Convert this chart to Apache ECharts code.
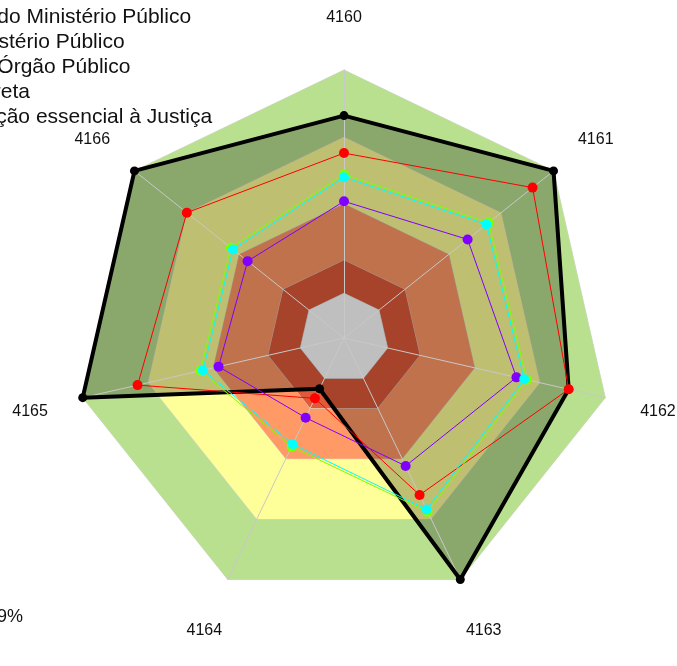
<!DOCTYPE html>
<html>
<head>
<meta charset="utf-8">
<script src="https://cdn.jsdelivr.net/npm/echarts@6/dist/echarts.min.js"></script>
<style>html,body{margin:0;padding:0;background:#fff;}#chart{width:677px;height:666px;}</style>
</head>
<body>
<div id="chart"></div>
<script>
// Indicators in clockwise order from the top, as in the reference
var indicators = ['4160', '4161', '4162', '4163', '4164', '4165', '4166'];
var axisMax = 100;

// Line series (values per indicator, same order as `indicators`)
var seriesNames = ['Ato do Ministério Público', 'Ministério Público', 'Em Órgão Público', 'Indireta', 'Função essencial à Justiça'];
var blackValues  = [83, 100, 86, 100, 21, 100, 100];
var redValues    = [69, 90, 86, 65, 25, 79, 75];
var cyanValues   = [60, 68, 69, 71, 44, 54, 53];
var limeValues   = [61, 69, 70, 72, 45, 55, 54];
var purpleValues = [51, 59, 66, 53, 33, 48, 46];

// Background bands (outer limit of each band, as a share of the axis)
var bandLimits = [100, 75, 50, 29, 16.7];
var bandColors = ['#b9e08f', '#ffff99', '#ff9966', '#e05a3a', '#ffffff'];

// ECharts lays indicators out counter-clockwise; reorder to get clockwise
var order = [0, 6, 5, 4, 3, 2, 1];
function ccw(arr) { return order.map(function (i) { return arr[i]; }); }

var font = 'Liberation Sans, Arial, sans-serif';
var radarRadius = 268, nameGap = 54;
var ccwNames = ccw(indicators);

var series = [];
bandLimits.forEach(function (v, k) {
  series.push({
    type: 'radar', z: 1, silent: true, symbol: 'none',
    lineStyle: { color: '#d4d4d4', width: 1 },
    areaStyle: { color: bandColors[k], opacity: 1 },
    data: [{ value: indicators.map(function () { return v; }) }]
  });
});
// shading of the first series' polygon
series.push({
  type: 'radar', z: 2, silent: true, symbol: 'none', name: seriesNames[0],
  lineStyle: { width: 0, opacity: 0 },
  areaStyle: { color: '#000000', opacity: 0.25 },
  data: [{ value: ccw(blackValues) }]
});
function lineSeries(name, values, color, width, size, z) {
  return {
    type: 'radar', name: name, z: z, symbol: 'circle', symbolSize: size,
    itemStyle: { color: color },
    lineStyle: { color: color, width: width },
    data: [{ value: ccw(values), name: name }]
  };
}
series.push(lineSeries(seriesNames[0], blackValues, '#000000', 4, 9, 4));
series.push(lineSeries(seriesNames[1], redValues, '#ff0000', 1, 10, 5));
series.push(lineSeries(seriesNames[4], purpleValues, '#8000ff', 1, 10, 5));
series.push(lineSeries(seriesNames[3], limeValues, '#80ff00', 1, 10, 5));
series.push(lineSeries(seriesNames[2], cyanValues, '#00ffff', 1, 10, 5));

// indicator names, centred just outside each axis end
var labelValue = axisMax * (radarRadius + nameGap) / radarRadius;
series.push({
  type: 'radar', z: 6, silent: true, symbol: 'circle', symbolSize: 1,
  itemStyle: { color: 'rgba(0,0,0,0)' },
  lineStyle: { width: 0, opacity: 0 },
  label: {
    show: true, position: 'inside', offset: [0, 2], color: '#111', fontSize: 16, fontFamily: font,
    formatter: function (p) { return ccwNames[p.dimensionIndex]; }
  },
  data: [{ value: ccwNames.map(function () { return labelValue; }) }]
});

var chart = echarts.init(document.getElementById('chart'), null, { renderer: 'canvas' });
chart.setOption({
  animation: false,
  backgroundColor: '#ffffff',
  textStyle: { fontFamily: font },
  legend: {
    orient: 'vertical', left: -70, top: 7, padding: 0,
    itemWidth: 25, itemHeight: 14, itemGap: 4,
    data: seriesNames,
    textStyle: { fontSize: 21, color: '#111', fontFamily: font, lineHeight: 21 }
  },
  graphic: [{
    type: 'text', x: -3, y: 608,
    style: { text: '9%', fontSize: 18, fill: '#111', fontFamily: font }
  }],
  radar: {
    z: 3,
    center: [344, 338],
    radius: radarRadius,
    startAngle: 90,
    shape: 'polygon',
    splitNumber: 1,
    axisName: { show: false },
    indicator: ccwNames.map(function (n) { return { name: n, min: 0, max: axisMax }; }),
    axisLine: { lineStyle: { color: '#c8c8c8', width: 1 } },
    splitLine: { show: false },
    splitArea: { show: false }
  },
  series: series
});
</script>
</body>
</html>
